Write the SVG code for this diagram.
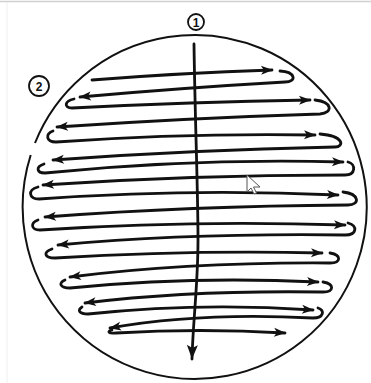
<svg xmlns="http://www.w3.org/2000/svg" width="371" height="383" viewBox="0 0 371 383">
<style>
.ink{fill:none;stroke:#111;stroke-width:2.8;stroke-linecap:round;stroke-linejoin:round}
.rim{fill:none;stroke:#111;stroke-width:2}
.lbl{fill:none;stroke:#111;stroke-width:1.8}
.num{font-family:"Liberation Sans",Arial,sans-serif;font-size:12px;font-weight:bold;fill:#111;text-anchor:middle}
</style>
<defs>
<marker id="ah" markerUnits="userSpaceOnUse" markerWidth="14" markerHeight="12" viewBox="0 0 14 12" refX="12" refY="6" orient="auto">
<path d="M1,1.5 L13,6 L1,10.5 L4,6 z" fill="#111"/>
</marker>
<marker id="ahv" markerUnits="userSpaceOnUse" markerWidth="16" markerHeight="14" viewBox="0 0 16 14" refX="15" refY="7" orient="auto">
<path d="M1,1.5 L15,7 L1,12.5 L4,7 z" fill="#111"/>
</marker>
</defs>
<rect width="371" height="383" fill="#fff"/>
<line x1="0" y1="1.5" x2="371" y2="1.5" stroke="#d0d0d0" stroke-width="1.5"/>
<line x1="7" y1="2" x2="7" y2="383" stroke="#efefef" stroke-width="1"/>
<g id="boundary">
<path class="rim" d="M35,143 A172,172 0 1 1 30.7,155"/>
</g>
<g id="label-1">
<circle class="lbl" cx="196" cy="22" r="8"/>
<text class="num" x="196" y="26.5">1</text>
</g>
<g id="label-2">
<circle class="lbl" cx="39" cy="86" r="10"/>
<text class="num" x="39" y="90.5">2</text>
</g>
<g id="connectors">
<path class="ink" marker-end="url(#ahv)" d="M194,44 C195,120 198,190 198,240 C198,285 193,320 192,359"/>
<path class="ink" marker-end="url(#ah)" d="M92,80 Q180,73 272,70"/>
<path class="ink" marker-end="url(#ah)" d="M280,71 C296,72 297,82 285,82 Q180,88 80,97"/>
<path class="ink" marker-end="url(#ah)" d="M74,99 C64,101 64,108 72,108 Q190,102 310,100"/>
<path class="ink" marker-end="url(#ah)" d="M315,100 C333,102 333,113 320,114 Q190,118 57,127"/>
<path class="ink" marker-end="url(#ah)" d="M53,131 C45,134 46,142 56,142 Q185,133 315,135"/>
<path class="ink" marker-end="url(#ah)" d="M320,134 C345,136 344,147 335,147 Q190,150 53,160"/>
<path class="ink" marker-end="url(#ah)" d="M44,164 C35,167 37,173 45,173 Q195,158 343,162"/>
<path class="ink" marker-end="url(#ah)" d="M348,162 C356,164 356,175 345,175 Q190,175 43,185"/>
<path class="ink" marker-end="url(#ah)" d="M38,187 C27,190 29,199 39,199 Q190,188 338,195"/>
<path class="ink" marker-end="url(#ah)" d="M343,192 C360,194 360,205 348,205 Q190,206 45,217"/>
<path class="ink" marker-end="url(#ah)" d="M38,220 C30,223 31,230 40,230 Q190,220 345,225"/>
<path class="ink" marker-end="url(#ah)" d="M348,223 C358,226 357,235 345,235 Q190,233 58,245"/>
<path class="ink" marker-end="url(#ah)" d="M52,249 C43,252 44,258 55,258 Q190,250 322,253"/>
<path class="ink" marker-end="url(#ah)" d="M330,253 C342,255 341,263 330,263 Q190,262 70,277"/>
<path class="ink" marker-end="url(#ah)" d="M65,280 C58,283 60,288 70,288 Q190,276 318,282"/>
<path class="ink" marker-end="url(#ah)" d="M323,282 C335,284 334,292 323,292 Q190,290 85,303"/>
<path class="ink" marker-end="url(#ah)" d="M82,307 C77,310 79,314 88,314 Q200,302 313,310"/>
<path class="ink" marker-end="url(#ah)" d="M318,308 C325,310 324,318 313,318 Q200,312 110,328"/>
<path class="ink" marker-end="url(#ah)" d="M112,330 C107,331 108,334 116,333 Q200,328 285,333"/>
</g>
<g id="cursor">
<polygon points="247,175 247,192 251,188 254,194 256.5,193 253.5,187 260,187" fill="#fff" stroke="#555" stroke-width="1" stroke-linejoin="round"/>
</g>
</svg>
